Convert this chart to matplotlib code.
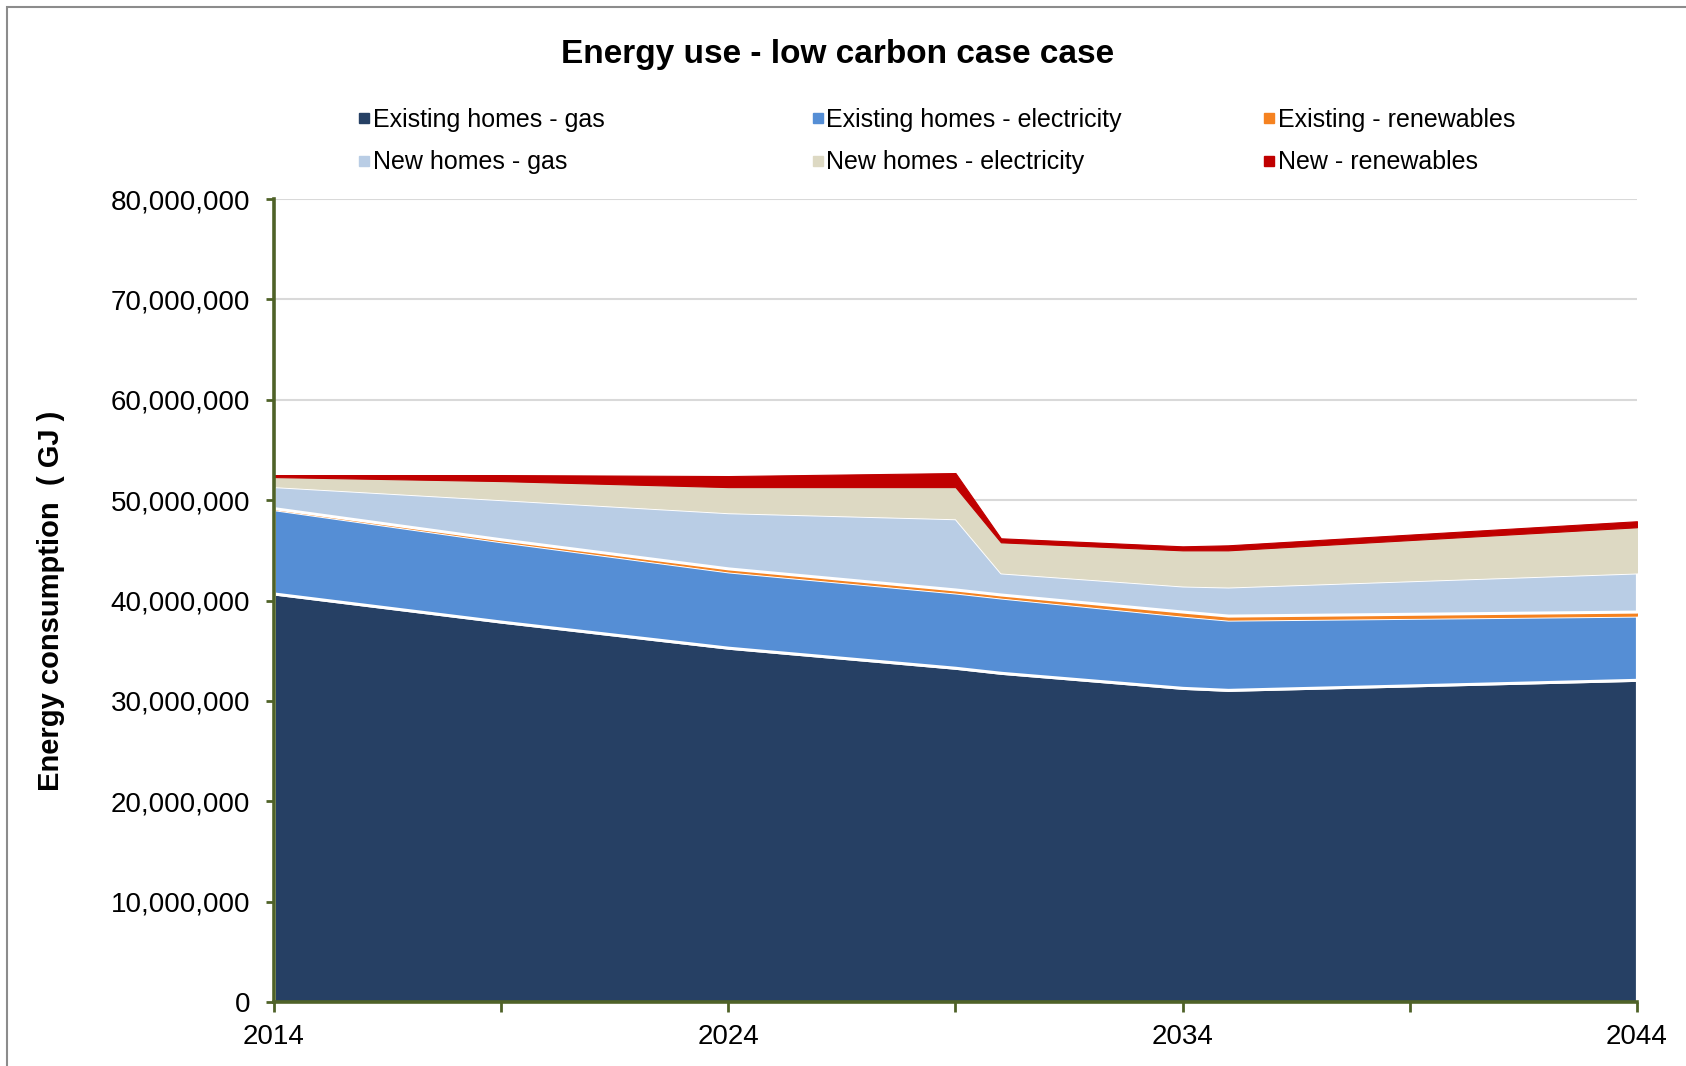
import matplotlib
matplotlib.use("Agg")
import matplotlib.pyplot as plt
from matplotlib.lines import Line2D
from matplotlib.patches import Rectangle
from matplotlib.ticker import FuncFormatter, MultipleLocator

plt.rcParams['font.family'] = ['Liberation Sans', 'DejaVu Sans']

# energy use by segment (GJ)
years = [2014, 2019, 2024, 2029, 2030, 2034, 2035, 2044]
existing_gas = [40_700_000, 37_900_000, 35_300_000, 33_300_000, 32_800_000, 31_300_000, 31_100_000, 32_100_000]
existing_elec = [8_400_000, 8_000_000, 7_600_000, 7_500_000, 7_500_000, 7_200_000, 7_000_000, 6_400_000]
existing_renew = [100_000, 200_000, 300_000, 300_000, 300_000, 400_000, 400_000, 400_000]
new_gas = [2_200_000, 4_000_000, 5_600_000, 7_100_000, 2_200_000, 2_600_000, 2_900_000, 3_900_000]
new_elec = [900_000, 1_800_000, 2_500_000, 3_100_000, 3_000_000, 3_500_000, 3_600_000, 4_500_000]
new_renew = [200_000, 600_000, 1_100_000, 1_400_000, 400_000, 400_000, 500_000, 600_000]

labels = ["Existing homes - gas", "Existing homes - electricity", "Existing - renewables",
          "New homes - gas", "New homes - electricity", "New - renewables"]
colors = ["#264064", "#558ED5", "#F58220", "#B9CDE5", "#DDD9C3", "#C00000"]
x_labels = ["2014", "2024", "2034", "2044"]

fig = plt.figure(figsize=(16.86, 10.66), dpi=100)
ax = fig.add_axes([0.1625, 0.060, 0.8084, 0.7533])

series = [existing_gas, existing_elec, existing_renew, new_gas, new_elec, new_renew]
base = [0] * len(years)
for i, (vals, c) in enumerate(zip(series, colors)):
    top = [b + v for b, v in zip(base, vals)]
    edge = "white" if i in (0, 1, 3) else c
    lw = 2.2 if i in (0, 1, 3) else 0.8
    ax.fill_between(years, base, top, facecolor=c, edgecolor=edge, linewidth=lw, zorder=2)
    base = top

ax.set_xlim(2014, 2044)
ax.set_ylim(0, 80_000_000)
ax.yaxis.set_major_locator(MultipleLocator(10_000_000))
ax.yaxis.set_major_formatter(FuncFormatter(lambda v, p: f"{int(v):,}"))
ax.set_xticks([2014, 2024, 2034, 2044])
ax.set_xticklabels(x_labels)
ax.set_xticks([2019, 2029, 2039], minor=True)
ax.grid(axis="y", color="#D9D9D9", linewidth=1.5, zorder=0)
ax.set_axisbelow(True)

green = "#4F6228"
for s in ["top", "right"]:
    ax.spines[s].set_visible(False)
for s in ["left", "bottom"]:
    ax.spines[s].set_color(green)
    ax.spines[s].set_linewidth(2.6)
    ax.spines[s].set_zorder(3)
ax.tick_params(axis="y", which="major", direction="out", length=6, width=2, color=green,
               labelsize=20, pad=11)
ax.tick_params(axis="x", which="both", direction="out", length=7, width=2, color=green,
               labelsize=20, pad=9)

ax.set_ylabel("Energy consumption  ( GJ )", fontsize=21, fontweight="bold", labelpad=33)
fig.text(0.497, 0.949, "Energy use - low carbon case case", ha="center", va="center",
         fontsize=24, fontweight="bold")

# legend laid out as three columns of two entries
handles = [Line2D([], [], linestyle="none", marker="s", markersize=7, markerfacecolor=c,
                  markeredgecolor=c) for c in colors]
col_x = [0.2115, 0.4805, 0.7485]
for k in range(3):
    leg = fig.legend([handles[k], handles[k + 3]], [labels[k], labels[k + 3]],
                     loc="upper left", bbox_to_anchor=(col_x[k], 0.899), frameon=False,
                     fontsize=18, handlelength=0.6, handletextpad=0.05, labelspacing=0.75,
                     borderpad=0, borderaxespad=0)

# outer chart frame
fig.patches.append(Rectangle((0.0042, -0.02), 1.1, 1.0134, transform=fig.transFigure,
                             fill=False, edgecolor="#8C8C8C", linewidth=1.5))

fig.savefig("out.png", dpi=100)
